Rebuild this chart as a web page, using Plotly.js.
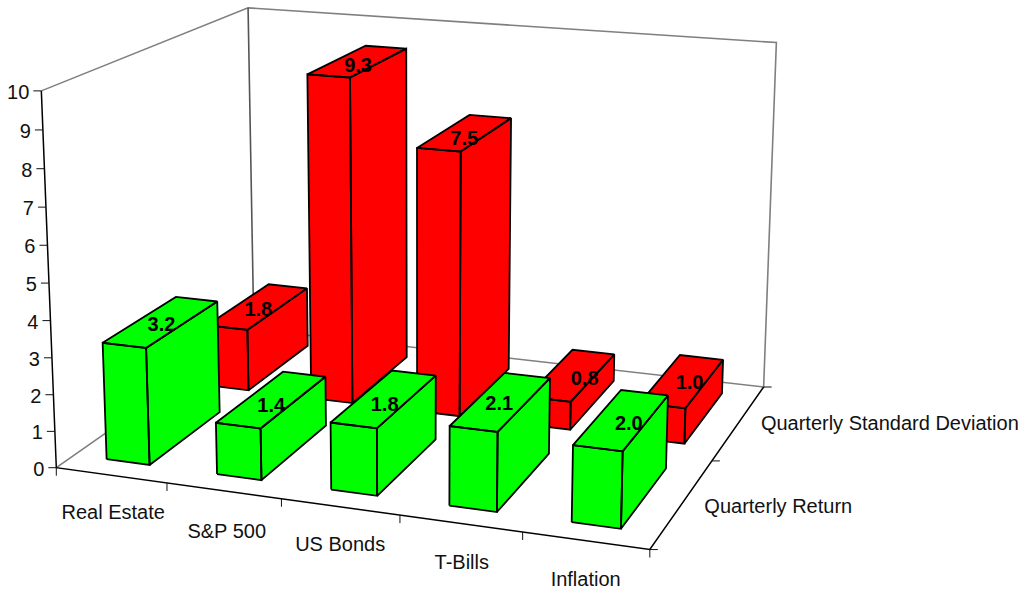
<!DOCTYPE html>
<html>
<head>
<meta charset="utf-8">
<script src="https://cdn.plot.ly/plotly-3.0.1.min.js"></script>
<style>html,body{margin:0;padding:0;background:#fff;overflow:hidden}#chart{width:1024px;height:592px}</style>
</head>
<body>
<div id="chart"></div>
<script>
// Asset classes along the front edge, series running into the depth of the box
const categories = ['Real Estate', 'S&P 500', 'US Bonds', 'T-Bills', 'Inflation'];
const seriesNames = ['Quarterly Return', 'Quarterly Standard Deviation'];
const quarterlyReturn = [3.2, 1.4, 1.8, 2.1, 2.0];
const quarterlyStdDev = [1.8, 9.3, 7.5, 0.8, 1.0];
const zTicks = [0, 1, 2, 3, 4, 5, 6, 7, 8, 9, 10];
const zMax = 10;

const FONT = 'Liberation Sans, Arial, sans-serif';
const EDGE = 1.8;
const seriesColors = ['#00ff00', '#ff0000'];

// Box corners and axis marks (category, series, value), their place on the page, and a fit weight
const viewAnchors = [
  [0, 0, 0, 56, 467, 3], [5, 0, 0, 651, 549, 3], [5, 2, 0, 763, 388, 3], [0, 2, 0, 254, 333, 1],
  [0, 0, 10, 41, 92, 4], [0, 2, 10, 249, 7, 3], [5, 2, 10, 776, 42, 3],
  [0, 0, 8, 44, 167, 1], [0, 0, 5, 48, 281, 1], [0, 0, 2, 53, 392, 1]
];

// Weighted least-squares camera matrix for the perspective view
function solveCamera(anchors) {
  const A = [], b = [];
  anchors.forEach(([X, Y, Z, u, v, w]) => {
    const x = X / 5, y = Y / 2, z = Z / 10;
    A.push([x, y, z, 1, 0, 0, 0, 0, -u * x, -u * y, -u * z].map(e => e * w)); b.push(u * w);
    A.push([0, 0, 0, 0, x, y, z, 1, -v * x, -v * y, -v * z].map(e => e * w)); b.push(v * w);
  });
  const n = 11;
  const M = [];
  for (let i = 0; i < n; i++) {
    M.push([]);
    for (let j = 0; j < n; j++) M[i].push(A.reduce((s, r) => s + r[i] * r[j], 0));
    M[i].push(A.reduce((s, r, k) => s + r[i] * b[k], 0));
  }
  for (let c = 0; c < n; c++) {
    let p = c;
    for (let r = c + 1; r < n; r++) if (Math.abs(M[r][c]) > Math.abs(M[p][c])) p = r;
    [M[c], M[p]] = [M[p], M[c]];
    for (let r = 0; r < n; r++) {
      if (r === c) continue;
      const f = M[r][c] / M[c][c];
      for (let k = c; k <= n; k++) M[r][k] -= f * M[c][k];
    }
  }
  return M.map((row, i) => row[n] / row[i]);
}
const cam = solveCamera(viewAnchors);
function project(X, Y, Z) {
  const x = X / 5, y = Y / 2, z = Z / zMax;
  const w = cam[8] * x + cam[9] * y + cam[10] * z + 1;
  return [(cam[0] * x + cam[1] * y + cam[2] * z + cam[3]) / w,
          (cam[4] * x + cam[5] * y + cam[6] * z + cam[7]) / w];
}

const traces = [];
function segment(points, color, width) {
  const p = points.map(q => project(...q));
  traces.push({ x: p.map(q => q[0]), y: p.map(q => q[1]), mode: 'lines',
    line: { color, width }, hoverinfo: 'skip', showlegend: false });
}
function pixelTick(X, Y, Z, dx, dy) {
  const [u, v] = project(X, Y, Z);
  traces.push({ x: [u, u + dx], y: [v, v + dy], mode: 'lines',
    line: { color: '#111', width: 1 }, hoverinfo: 'skip', showlegend: false });
}
function labels(items, position, font) {
  traces.push({ x: items.map(i => i[0]), y: items.map(i => i[1]), text: items.map(i => i[2]),
    mode: 'text', textposition: position, textfont: font, cliponaxis: false,
    hoverinfo: 'skip', showlegend: false });
}

// Back walls and the far floor edges
segment([[0, 0, 0], [0, 2, 0], [5, 2, 0], [5, 2, 10], [0, 2, 10], [0, 0, 10]], '#7f7f7f', 1.6);
segment([[0, 2, 0], [0, 2, 10]], '#555', 1.6);
// Near axes
segment([[0, 0, 10], [0, 0, 0], [5, 0, 0], [5, 2, 0]], '#000', 1.5);

zTicks.forEach(t => pixelTick(0, 0, t, -8, 0));
[0, 1, 2, 3, 4, 5].forEach(i => pixelTick(i, 0, 0, 0, 8));
[0, 1, 2].forEach(s => pixelTick(5, s, 0, 8, 0));

// A bar is three visible faces, drawn from the far series forward and left to right
const BAR_X = [0.295, 0.688], BAR_Y = [0.16, 0.85];
function barFaces(cat, ser, value) {
  const x0 = cat + BAR_X[0], x1 = cat + BAR_X[1], y0 = ser + BAR_Y[0], y1 = ser + BAR_Y[1];
  const faces = [
    [[x0, y0, 0], [x1, y0, 0], [x1, y0, value], [x0, y0, value]],
    [[x1, y0, 0], [x1, y1, 0], [x1, y1, value], [x1, y0, value]],
    [[x0, y0, value], [x1, y0, value], [x1, y1, value], [x0, y1, value]]
  ];
  const xs = [], ys = [];
  faces.forEach(f => {
    f.concat([f[0]]).forEach(q => { const p = project(...q); xs.push(p[0]); ys.push(p[1]); });
    xs.push(null); ys.push(null);
  });
  traces.push({ x: xs, y: ys, mode: 'lines', fill: 'toself', fillcolor: seriesColors[ser],
    line: { color: '#000', width: EDGE, join: 'miter' }, connectgaps: false,
    hoverinfo: 'skip', showlegend: false, name: categories[cat] + ' ' + seriesNames[ser] });
}
const seriesValues = [quarterlyReturn, quarterlyStdDev];
[1, 0].forEach(ser => seriesValues[ser].forEach((v, cat) => barFaces(cat, ser, v)));

// Value labels sit on the top face of each bar, with a small hand placement per label
const labelNudgeX = [[0, -1, 0, -2, 7], [0, 0, -1, 13, 7]];
const labelNudgeY = [[4, 8, 8, 4, 5], [5, 6, 7, 5, 3]];
const valueItems = [];
seriesValues.forEach((vals, ser) => vals.forEach((v, cat) => {
  const p = project(cat + (BAR_X[0] + BAR_X[1]) / 2, ser + (BAR_Y[0] + BAR_Y[1]) / 2, v);
  valueItems.push([p[0] + labelNudgeX[ser][cat], p[1] + labelNudgeY[ser][cat], v.toFixed(1)]);
}));
labels(valueItems, 'middle center', { family: FONT, size: 20, color: '#000', weight: 700 });

// Axis labels
const tickFont = { family: FONT, size: 20, color: '#111' };
const catNudge = [[2, 0], [3, 3], [0, 0], [1, 2], [0, 1]];
labels(zTicks.map(t => { const p = project(0, 0, t); return [p[0] - 12, p[1] + 3, String(t)]; }), 'middle left', tickFont);
labels(categories.map((c, i) => { const p = project(i + 0.5, 0, 0); return [p[0] + catNudge[i][0], p[1] + 39 + catNudge[i][1], c]; }), 'middle center', tickFont);
labels(seriesNames.map((s, i) => { const p = project(5, i + 0.5, 0); return [p[0] + 22, p[1] + 4 + (i ? -1 : 1), s]; }), 'middle right', tickFont);

const hidden = { visible: false, fixedrange: true, autorange: false };
Plotly.newPlot('chart', traces, {
  width: 1024, height: 592, margin: { l: 0, r: 0, t: 0, b: 0 },
  paper_bgcolor: '#fff', plot_bgcolor: '#fff', showlegend: false,
  xaxis: Object.assign({ range: [0, 1024] }, hidden),
  yaxis: Object.assign({ range: [592, 0] }, hidden)
}, { displayModeBar: false, staticPlot: true });
</script>
</body>
</html>
